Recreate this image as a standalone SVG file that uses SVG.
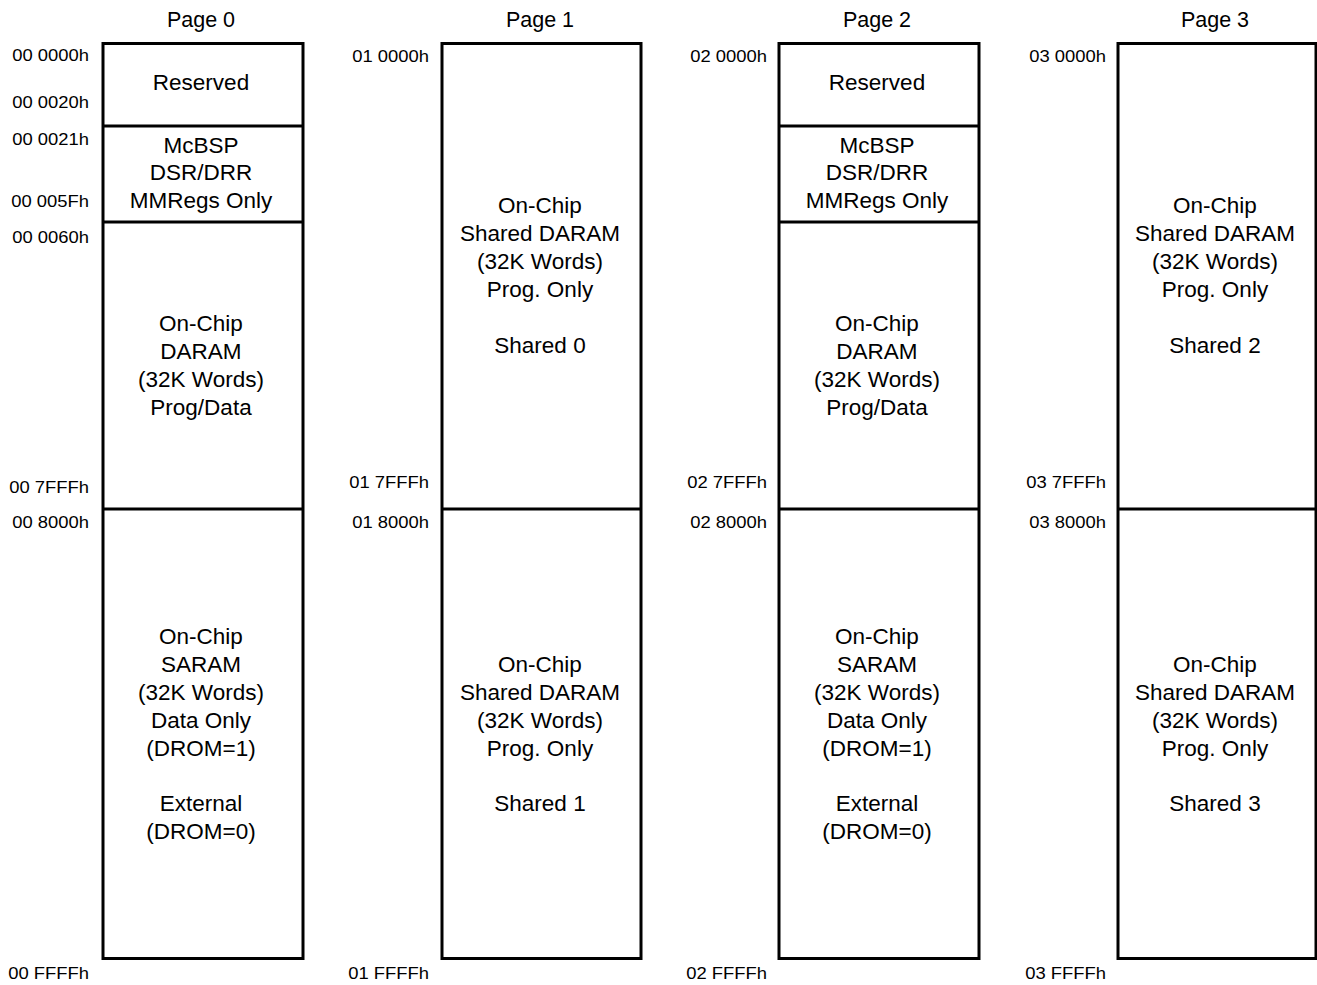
<svg xmlns="http://www.w3.org/2000/svg" width="1317" height="985" viewBox="0 0 1317 985">
<style>
.box{fill:#fff;stroke:#000;stroke-width:3}
.div{stroke:#000;stroke-width:3}
.t{font-family:"Liberation Sans",Arial,sans-serif;font-size:22.5px;text-anchor:middle;fill:#000}
.ttl{font-family:"Liberation Sans",Arial,sans-serif;font-size:21.5px;text-anchor:middle;fill:#000}
.a{font-family:"Liberation Sans",Arial,sans-serif;font-size:16px;text-anchor:end;fill:#000}
</style>
<rect width="1317" height="985" fill="#fff"/>
<g id="page0">
<text class="ttl" x="201" y="27">Page 0</text>
<rect class="box" x="103" y="43.5" width="200" height="915"/>
<line class="div" x1="103" y1="126" x2="303" y2="126"/>
<line class="div" x1="103" y1="222" x2="303" y2="222"/>
<line class="div" x1="103" y1="509" x2="303" y2="509"/>
<text class="t" x="201" y="90">Reserved</text>
<text class="t" x="201" y="152.5">McBSP</text>
<text class="t" x="201" y="180">DSR/DRR</text>
<text class="t" x="201" y="207.5">MMRegs Only</text>
<text class="t" x="201" y="331">On-Chip</text>
<text class="t" x="201" y="359">DARAM</text>
<text class="t" x="201" y="387">(32K Words)</text>
<text class="t" x="201" y="415">Prog/Data</text>
<text class="t" x="201" y="644">On-Chip</text>
<text class="t" x="201" y="672">SARAM</text>
<text class="t" x="201" y="700">(32K Words)</text>
<text class="t" x="201" y="727.5">Data Only</text>
<text class="t" x="201" y="755.5">(DROM=1)</text>
<text class="t" x="201" y="811">External</text>
<text class="t" x="201" y="839">(DROM=0)</text>
<text class="a" x="89" y="61" textLength="76.7" lengthAdjust="spacingAndGlyphs">00 0000h</text>
<text class="a" x="89" y="108" textLength="76.7" lengthAdjust="spacingAndGlyphs">00 0020h</text>
<text class="a" x="89" y="145" textLength="76.7" lengthAdjust="spacingAndGlyphs">00 0021h</text>
<text class="a" x="89" y="207" textLength="77.7" lengthAdjust="spacingAndGlyphs">00 005Fh</text>
<text class="a" x="89" y="243" textLength="76.7" lengthAdjust="spacingAndGlyphs">00 0060h</text>
<text class="a" x="89" y="493" textLength="79.8" lengthAdjust="spacingAndGlyphs">00 7FFFh</text>
<text class="a" x="89" y="528" textLength="76.7" lengthAdjust="spacingAndGlyphs">00 8000h</text>
<text class="a" x="89" y="979" textLength="80.8" lengthAdjust="spacingAndGlyphs">00 FFFFh</text>
</g>
<g id="page1">
<text class="ttl" x="540" y="27">Page 1</text>
<rect class="box" x="442" y="43.5" width="199" height="915"/>
<line class="div" x1="442" y1="509" x2="641" y2="509"/>
<text class="t" x="540" y="213">On-Chip</text>
<text class="t" x="540" y="241">Shared DARAM</text>
<text class="t" x="540" y="269">(32K Words)</text>
<text class="t" x="540" y="297">Prog. Only</text>
<text class="t" x="540" y="353">Shared 0</text>
<text class="t" x="540" y="672">On-Chip</text>
<text class="t" x="540" y="700">Shared DARAM</text>
<text class="t" x="540" y="728">(32K Words)</text>
<text class="t" x="540" y="756">Prog. Only</text>
<text class="t" x="540" y="811">Shared 1</text>
<text class="a" x="429" y="62" textLength="76.7" lengthAdjust="spacingAndGlyphs">01 0000h</text>
<text class="a" x="429" y="488" textLength="79.8" lengthAdjust="spacingAndGlyphs">01 7FFFh</text>
<text class="a" x="429" y="528" textLength="76.7" lengthAdjust="spacingAndGlyphs">01 8000h</text>
<text class="a" x="429" y="979" textLength="80.8" lengthAdjust="spacingAndGlyphs">01 FFFFh</text>
</g>
<g id="page2">
<text class="ttl" x="877" y="27">Page 2</text>
<rect class="box" x="779" y="43.5" width="200" height="915"/>
<line class="div" x1="779" y1="126" x2="979" y2="126"/>
<line class="div" x1="779" y1="222" x2="979" y2="222"/>
<line class="div" x1="779" y1="509" x2="979" y2="509"/>
<text class="t" x="877" y="90">Reserved</text>
<text class="t" x="877" y="152.5">McBSP</text>
<text class="t" x="877" y="180">DSR/DRR</text>
<text class="t" x="877" y="207.5">MMRegs Only</text>
<text class="t" x="877" y="331">On-Chip</text>
<text class="t" x="877" y="359">DARAM</text>
<text class="t" x="877" y="387">(32K Words)</text>
<text class="t" x="877" y="415">Prog/Data</text>
<text class="t" x="877" y="644">On-Chip</text>
<text class="t" x="877" y="672">SARAM</text>
<text class="t" x="877" y="700">(32K Words)</text>
<text class="t" x="877" y="727.5">Data Only</text>
<text class="t" x="877" y="755.5">(DROM=1)</text>
<text class="t" x="877" y="811">External</text>
<text class="t" x="877" y="839">(DROM=0)</text>
<text class="a" x="767" y="62" textLength="76.7" lengthAdjust="spacingAndGlyphs">02 0000h</text>
<text class="a" x="767" y="488" textLength="79.8" lengthAdjust="spacingAndGlyphs">02 7FFFh</text>
<text class="a" x="767" y="528" textLength="76.7" lengthAdjust="spacingAndGlyphs">02 8000h</text>
<text class="a" x="767" y="979" textLength="80.8" lengthAdjust="spacingAndGlyphs">02 FFFFh</text>
</g>
<g id="page3">
<text class="ttl" x="1215" y="27">Page 3</text>
<rect class="box" x="1118" y="43.5" width="198" height="915"/>
<line class="div" x1="1118" y1="509" x2="1316" y2="509"/>
<text class="t" x="1215" y="213">On-Chip</text>
<text class="t" x="1215" y="241">Shared DARAM</text>
<text class="t" x="1215" y="269">(32K Words)</text>
<text class="t" x="1215" y="297">Prog. Only</text>
<text class="t" x="1215" y="353">Shared 2</text>
<text class="t" x="1215" y="672">On-Chip</text>
<text class="t" x="1215" y="700">Shared DARAM</text>
<text class="t" x="1215" y="728">(32K Words)</text>
<text class="t" x="1215" y="756">Prog. Only</text>
<text class="t" x="1215" y="811">Shared 3</text>
<text class="a" x="1106" y="62" textLength="76.7" lengthAdjust="spacingAndGlyphs">03 0000h</text>
<text class="a" x="1106" y="488" textLength="79.8" lengthAdjust="spacingAndGlyphs">03 7FFFh</text>
<text class="a" x="1106" y="528" textLength="76.7" lengthAdjust="spacingAndGlyphs">03 8000h</text>
<text class="a" x="1106" y="979" textLength="80.8" lengthAdjust="spacingAndGlyphs">03 FFFFh</text>
</g>
<g id="connectors"/>
</svg>
